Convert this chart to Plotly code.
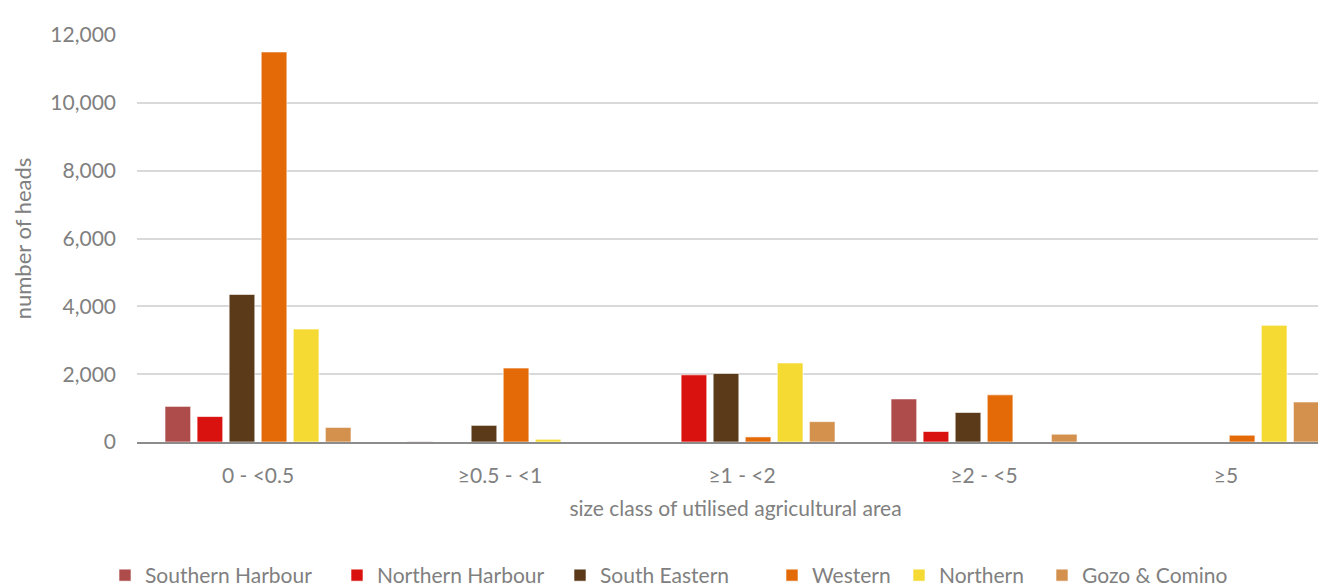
import plotly.graph_objects as go

# size classes of utilised agricultural area
categories = ["0 - <0.5", "≥0.5 - <1", "≥1 - <2", "≥2 - <5", "≥5"]

# number of heads per district
southern_harbour = [1050, 10, 0, 1270, 0]
northern_harbour = [750, 0, 1980, 310, 0]
south_eastern = [4350, 490, 2020, 870, 0]
western = [11500, 2180, 150, 1390, 200]
northern = [3330, 80, 2330, 0, 3440]
gozo_comino = [430, 0, 600, 230, 1180]

series = [
    ("Southern Harbour", southern_harbour, "#AE4B4B"),
    ("Northern Harbour", northern_harbour, "#DA120F"),
    ("South Eastern", south_eastern, "#5A3A19"),
    ("Western", western, "#E36A07"),
    ("Northern", northern, "#F5DA33"),
    ("Gozo & Comino", gozo_comino, "#D4914E"),
]

y_ticks = [0, 2000, 4000, 6000, 8000, 10000, 12000]

grey = "#808080"
font_family = "Lato, 'Open Sans', sans-serif"

# plot area in pixels, used to place the legend entries the way excel spaced them
plot_left, plot_w = 129, 1197
legend_text_px = [141, 373, 596, 808, 935, 1078]

fig = go.Figure()
layout_legends = {}
for i, (name, vals, col) in enumerate(series):
    key = f"legend{i + 2}"
    fig.add_trace(go.Bar(
        x=categories, y=vals, name=name, legend=key,
        marker=dict(color=col, line=dict(color="rgba(255,255,255,0.6)", width=1)),
    ))
    layout_legends[key] = dict(
        orientation="h", x=(legend_text_px[i] - 44 - plot_left) / plot_w,
        xanchor="left", y=-0.329, yanchor="middle",
        font=dict(size=21, color=grey), itemwidth=30,
        bgcolor="rgba(0,0,0,0)",
    )

fig.update_layout(
    width=1326, height=588,
    barmode="group", bargap=0.205, bargroupgap=0.2,
    plot_bgcolor="white", paper_bgcolor="white",
    margin=dict(l=plot_left, r=0, t=27, b=144),
    font=dict(family=font_family, size=21, color=grey),
    xaxis=dict(
        title=dict(text="size class of utilised agricultural area", standoff=15,
                   font=dict(size=21, color=grey)),
        range=[-0.5, 4.446], automargin=False,
        showline=True, linecolor="#8c8c8c", linewidth=2,
        ticks="", ticklabelstandoff=14, tickfont=dict(size=21, color=grey),
    ),
    yaxis=dict(
        title=dict(text="number of heads", standoff=12, font=dict(size=22, color=grey)),
        range=[0, 12000], tickvals=y_ticks, tickformat=",", automargin=False,
        showgrid=True, gridcolor="#d9d9d9", gridwidth=1.5,
        zeroline=False, ticks="", ticklabelstandoff=20,
        tickfont=dict(size=21, color=grey),
    ),
    **layout_legends,
)

fig.write_html("out.html")
